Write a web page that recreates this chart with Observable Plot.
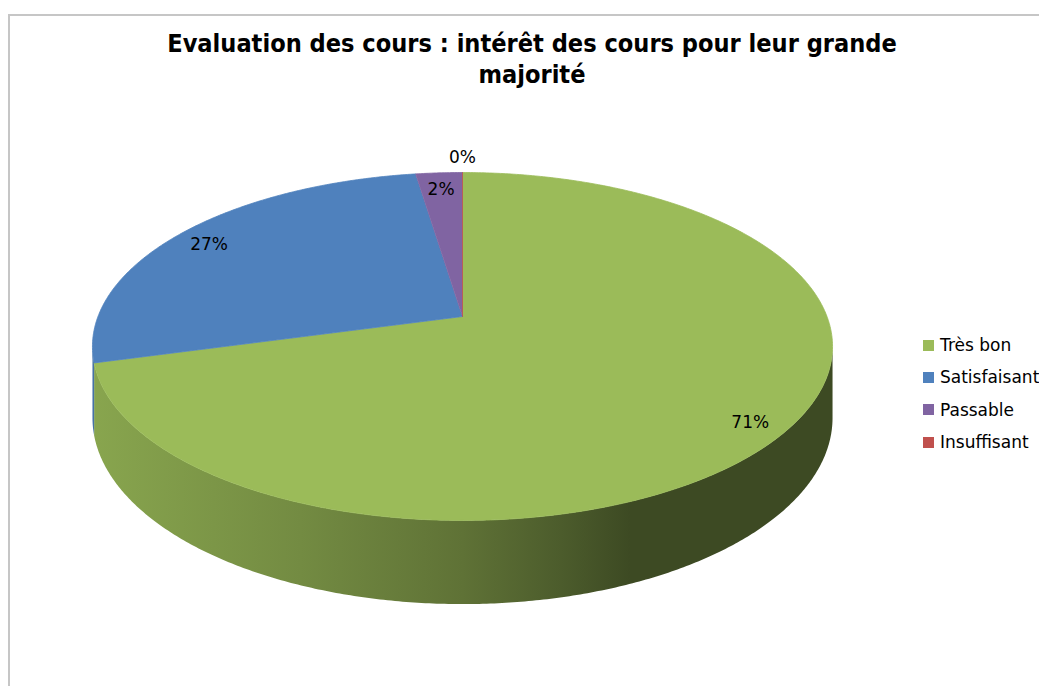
<!DOCTYPE html>
<html><head><meta charset="utf-8">
<script src="https://cdn.jsdelivr.net/npm/d3@7"></script>
<script src="https://cdn.jsdelivr.net/npm/@observablehq/plot@0.6"></script>
<style>
html,body{margin:0;padding:0;background:#fff;overflow:hidden}
#wrap{position:relative;width:1039px;height:686px;overflow:hidden;font-family:"DejaVu Sans",sans-serif}
#chart{position:absolute;left:0;top:0}
#frame{position:absolute;left:8px;top:14px;width:1200px;height:900px;border-left:2px solid #c6c6c6;border-top:2px solid #c6c6c6;pointer-events:none}
#title{position:absolute;left:0;top:28px;width:1064px;text-align:center;font-weight:bold;font-family:"DejaVu Sans Condensed","DejaVu Sans",sans-serif;font-size:23px;line-height:31px;color:#000}
#title span{white-space:nowrap}
#legend{position:absolute;left:923px;top:329px;font-size:17px;color:#000;font-family:"DejaVu Sans",sans-serif}
.item{display:flex;align-items:center;height:32.3px;white-space:nowrap}
.sw{width:11px;height:11px;margin-right:6px;flex:none}
</style></head><body>
<div id="wrap"><div id="chart"></div><div id="frame"></div><div id="title"></div><div id="legend"></div></div>
<script>
// ---- data ----
const categories = ["Très bon", "Satisfaisant", "Passable", "Insuffisant"];
const percentages = [70.7, 26.8, 2.4, 0];   // slice shares
const labels = ["71%", "27%", "2%", "0%"];
const colors = ["#9BBB59", "#4F81BD", "#8064A2", "#C0504D"];
const titleLines = ["Evaluation des cours : intérêt des cours pour leur grande", "majorité"];

// ---- 3D perspective geometry ----
const persp = 0.1724;   // perspective strength
const depth = 0.41;     // side thickness (in radius units)
function proj(theta, r = 1, down = 0) {
  const u = r * Math.sin(theta), v = r * Math.cos(theta);
  const w = 1 + persp * v;
  return {X: u / w, Y: -v / w + down / w};
}
const pie = d3.pie().sort(null).startAngle(0).endAngle(2 * Math.PI)(percentages);
const step = Math.PI / 360;

// top faces
const topData = [];
pie.forEach((s, i) => {
  const id = "top" + i;
  topData.push({id, ...proj(0, 0), c: colors[i]});
  const n = Math.max(1, Math.ceil((s.endAngle - s.startAngle) / step));
  for (let j = 0; j <= n; j++) {
    const t = s.startAngle + (s.endAngle - s.startAngle) * j / n;
    topData.push({id, ...proj(t), c: colors[i]});
  }
});

// side (visible front part) of each slice, one polygon each, filled with a horizontal shading gradient
const thR = Math.acos(-persp), thL = 2 * Math.PI - Math.acos(-persp);
const shadeX = [-1.01, -0.444, 0, 0.27, 0.46, 1.02];
const shadeF = [0.88, 0.745, 0.61, 0.49, 0.395, 0.395];
const sideData = [];
const sideSlices = [];
pie.forEach((s, i) => {
  const a0 = Math.max(s.startAngle, thR), a1 = Math.min(s.endAngle, thL);
  if (a1 <= a0) return;
  sideSlices.push(i);
  const id = "side" + i, c = `url(#sidegrad${i})`;
  const n = Math.max(1, Math.ceil((a1 - a0) / step));
  for (let j = 0; j <= n; j++) sideData.push({id, ...proj(a0 + (a1 - a0) * j / n), c});
  for (let j = n; j >= 0; j--) sideData.push({id, ...proj(a0 + (a1 - a0) * j / n, 1, depth), c});
});

// labels
const labelData = pie.map((s, i) => {
  const mid = (s.startAngle + s.endAngle) / 2;
  const r = percentages[i] < 1 ? 1.16 : 0.9;
  return {...proj(mid, r), t: labels[i]};
});

const cx = 462, cy = 316, kx = 364.5, ky = 168.8;
const chart = Plot.plot({
  width: 1039, height: 686, margin: 0,
  x: {domain: [-1, 1], range: [cx - kx, cx + kx], axis: null},
  y: {domain: [-1, 1], range: [cy - ky, cy + ky], axis: null},
  color: {type: "identity"},
  style: {fontFamily: "DejaVu Sans, sans-serif", background: "transparent"},
  marks: [
    Plot.line(sideData, {x: "X", y: "Y", z: "id", fill: "c", stroke: "none", curve: "linear"}),
    Plot.line(topData, {x: "X", y: "Y", z: "id", fill: "c", stroke: "c", strokeWidth: 0.8, curve: "linear"}),
    Plot.text(labelData, {x: "X", y: "Y", dy: 4, text: "t", fontSize: 17, fill: "#000"})
  ]
});
// gradients for the side shading, positioned with the plot's x scale
const xs = chart.scale("x");
const defs = d3.create("svg:defs");
sideSlices.forEach(i => {
  const base = d3.rgb(colors[i]);
  const x1 = xs.apply(shadeX[0]), x2 = xs.apply(shadeX[shadeX.length - 1]);
  const g = defs.append("linearGradient").attr("id", "sidegrad" + i)
    .attr("gradientUnits", "userSpaceOnUse").attr("x1", x1).attr("x2", x2).attr("y1", 0).attr("y2", 0);
  shadeX.forEach((sx, k) => {
    const f = shadeF[k];
    g.append("stop").attr("offset", (xs.apply(sx) - x1) / (x2 - x1))
      .attr("stop-color", d3.rgb(base.r * f, base.g * f, base.b * f).formatHex());
  });
});
chart.prepend(defs.node());
document.getElementById("chart").append(chart);

// title
const title = document.getElementById("title");
titleLines.forEach(t => {
  const d = document.createElement("div");
  const s = document.createElement("span");
  s.textContent = t;
  d.append(s);
  title.append(d);
});
const w0 = title.querySelector("span").getBoundingClientRect().width;
if (w0 > 0) title.style.fontSize = (23 * 730 / w0) + "px";

// legend
const legend = document.getElementById("legend");
categories.forEach((c, i) => {
  const it = document.createElement("div");
  it.className = "item";
  const sw = document.createElement("span");
  sw.className = "sw";
  sw.style.background = colors[i];
  const tx = document.createElement("span");
  tx.textContent = c;
  it.append(sw, tx);
  legend.append(it);
});
</script>
</body></html>
